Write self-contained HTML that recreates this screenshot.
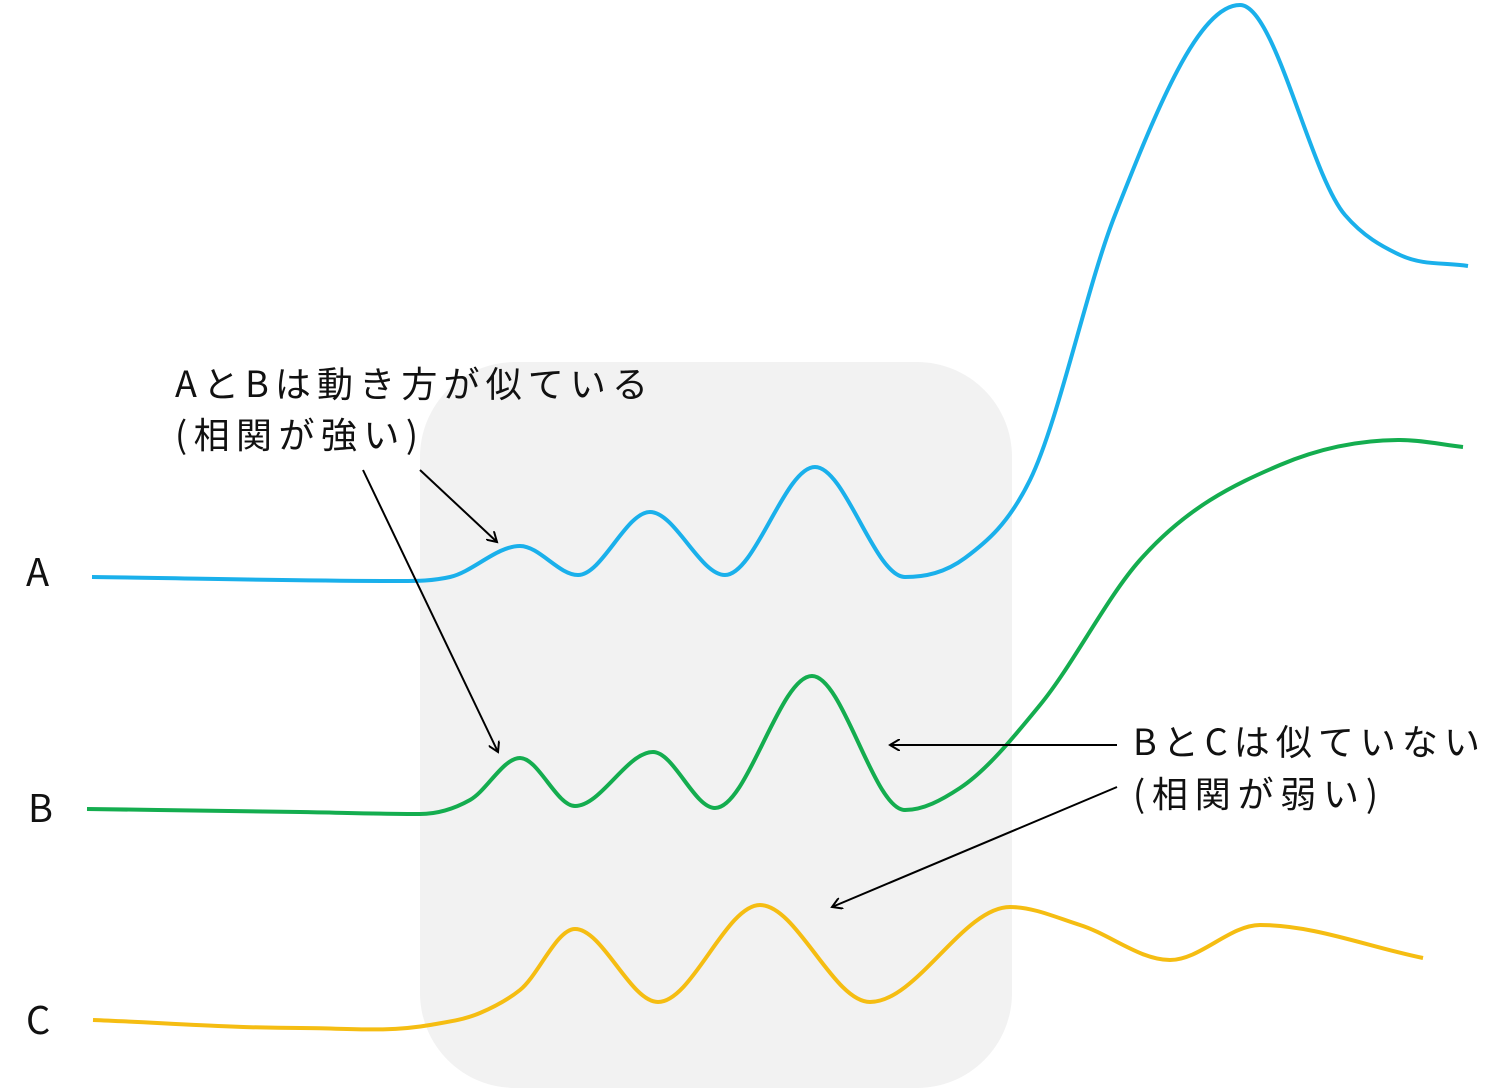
<!DOCTYPE html>
<html><head><meta charset="utf-8"><style>
html,body{margin:0;padding:0;background:#fff;}
svg{display:block;}
text{font-family:"Noto Sans CJK JP","Liberation Sans",sans-serif;fill:#111;}
</style></head><body>
<svg id="chart" width="1509" height="1089" viewBox="0 0 1509 1089">
<defs><marker id="ah" markerWidth="12" markerHeight="12" refX="10" refY="6" orient="auto" markerUnits="userSpaceOnUse"><path d="M0,0 L10,6 L0,12" fill="none" stroke="#000" stroke-width="2"/></marker></defs>
<rect x="420" y="362" width="592" height="726" rx="95" fill="#f2f2f2"/>
<g id="lines"></g>
<text x="26" y="586" font-size="38">A</text>
<text x="28" y="822" font-size="38">B</text>
<text x="26" y="1034" font-size="38">C</text>
<text x="175" y="397" font-size="36" textLength="473" lengthAdjust="spacing">AとBは動き方が似ている</text>
<text x="175" y="448" font-size="36" textLength="243" lengthAdjust="spacing">(相関が強い)</text>
<text x="1133" y="755" font-size="36" textLength="347" lengthAdjust="spacing">BとCは似ていない</text>
<text x="1133" y="807" font-size="36" textLength="245" lengthAdjust="spacing">(相関が弱い)</text>
<line x1="420" y1="470" x2="497" y2="542" stroke="#000" stroke-width="2" marker-end="url(#ah)"/>
<line x1="363" y1="470" x2="498" y2="752" stroke="#000" stroke-width="2" marker-end="url(#ah)"/>
<line x1="1117" y1="745" x2="890" y2="745" stroke="#000" stroke-width="2" marker-end="url(#ah)"/>
<line x1="1117" y1="787" x2="832" y2="907" stroke="#000" stroke-width="2" marker-end="url(#ah)"/>
</svg>
<script>
const xA=[92,400,450,520,578,650,725,815,905,965,1030,1115,1240,1345,1400,1468];
const yA=[577,581,577,546,575,512,575,467,577,558,480,215,5,215,255,266];
const xB=[87,300,420,470,520,575,653,715,812,905,960,1040,1140,1280,1400,1463];
const yB=[809,812,814,800,758,806,752,808,676,810,788,705,560,465,440,447];
const xC=[93,300,430,480,520,575,658,760,870,1010,1080,1170,1260,1423];
const yC=[1020,1028,1025,1013,990,929,1002,905,1002,907,925,960,925,958];
function path(xs,ys){
  const n=xs.length, s=[], m=[];
  for(let i=0;i<n-1;i++) s.push((ys[i+1]-ys[i])/(xs[i+1]-xs[i]));
  for(let i=0;i<n;i++){
    if(i===0) m.push(s[0]);
    else if(i===n-1) m.push(s[n-2]);
    else if(s[i-1]*s[i]<=0) m.push(0);
    else {
      const h0=xs[i]-xs[i-1], h1=xs[i+1]-xs[i];
      m.push((s[i-1]*h1+s[i]*h0)/(h0+h1));
    }
  }
  let d='M'+xs[0]+','+ys[0];
  for(let i=0;i<n-1;i++){
    const h=(xs[i+1]-xs[i])/3;
    d+=' C'+(xs[i]+h)+','+(ys[i]+m[i]*h)+' '+(xs[i+1]-h)+','+(ys[i+1]-m[i+1]*h)+' '+xs[i+1]+','+ys[i+1];
  }
  return d;
}
const g=document.getElementById('lines');
function add(xs,ys,color,name){
  const el=document.createElementNS('http://www.w3.org/2000/svg','path');
  el.setAttribute('d',path(xs,ys));
  el.setAttribute('fill','none');
  el.setAttribute('stroke',color);
  el.setAttribute('stroke-width','4');
  
  
  g.appendChild(el);
}
add(xA,yA,'#1ab0eb','series-a-line');
add(xB,yB,'#14ad4f','series-b-line');
add(xC,yC,'#f5bd12','series-c-line');
</script>
</body></html>
